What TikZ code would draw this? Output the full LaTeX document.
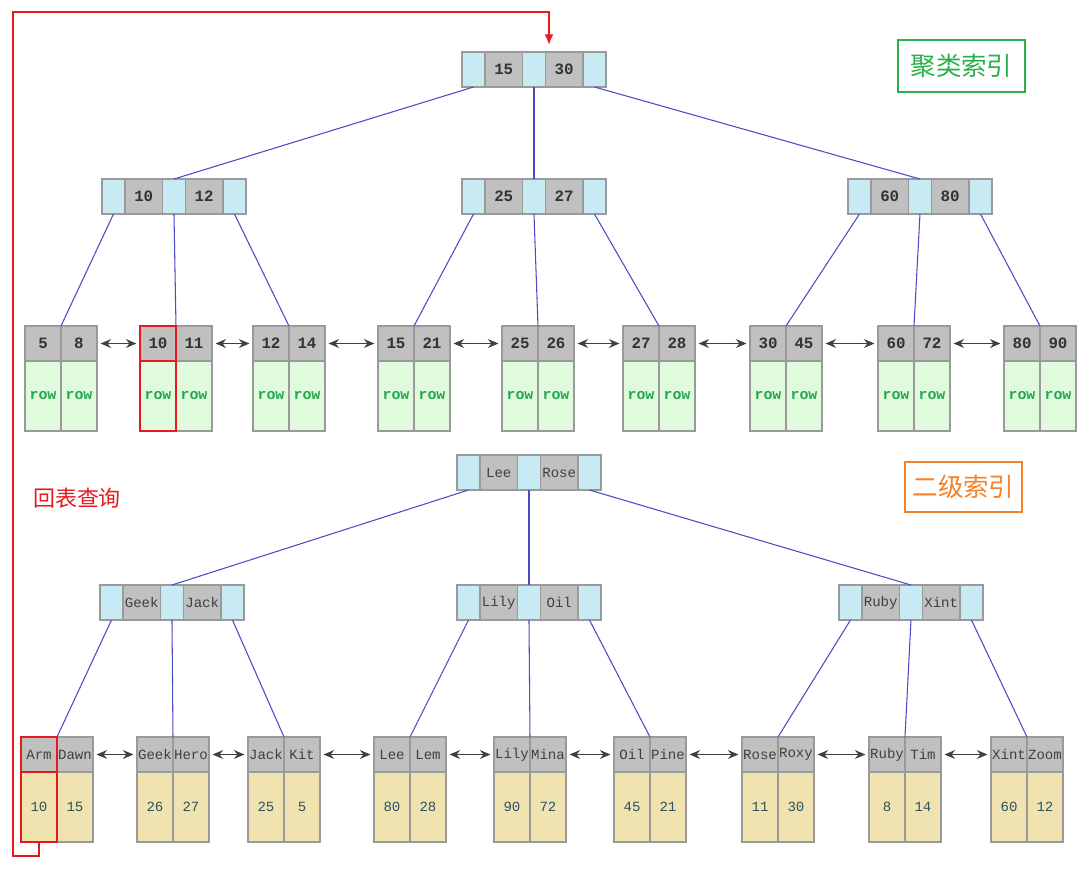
\documentclass[tikz,border=0pt]{standalone}
\usepackage{fontspec}
\setmonofont{Liberation Mono}
\newfontfamily\cjk{Noto Sans CJK SC}
\usetikzlibrary{positioning,arrows.meta}
\definecolor{ptrc}{HTML}{C8EAF2}
\definecolor{keyc}{HTML}{C0C0C0}
\definecolor{rowc}{HTML}{E0FADE}
\definecolor{valc}{HTML}{F0E3B0}
\definecolor{edgec}{HTML}{9A9A9A}
\definecolor{linkc}{HTML}{4A4AC4}
\definecolor{rowtxt}{HTML}{22A84A}
\definecolor{valtxt}{HTML}{2E5260}
\definecolor{grn}{HTML}{2BAF4A}
\definecolor{org}{HTML}{F5822A}
\definecolor{red1}{HTML}{E8191E}

\begin{document}
\begin{tikzpicture}[x=0.02cm,y=-0.02cm,
	cellbox/.style={draw=edgec,line width=0.6pt,inner sep=0,outer sep=0,
		anchor=west,minimum height=0.7cm},
	ptr/.style={cellbox,fill=ptrc,minimum width=0.46cm},
	numkey/.style={cellbox,fill=keyc,minimum width=0.75cm,
		font=\ttfamily\bfseries\fontsize{9}{10}\selectfont,text=black!80},
	wordkey/.style={cellbox,fill=keyc,minimum width=0.75cm,
		font=\ttfamily\fontsize{8}{9}\selectfont,text=black!75},
	lnum/.style={numkey,minimum width=0.72cm},
	lword/.style={wordkey,minimum width=0.72cm},
	rowbox/.style={cellbox,anchor=north,fill=rowc,minimum width=0.72cm,minimum height=1.4cm,
		font=\ttfamily\bfseries\fontsize{8.5}{9}\selectfont,text=rowtxt},
	valbox/.style={cellbox,anchor=north,fill=valc,minimum width=0.72cm,minimum height=1.4cm,
		font=\ttfamily\fontsize{8}{9}\selectfont,text=valtxt},
	treeline/.style={draw=linkc,line width=0.6pt},
	leafarrow/.style={draw=black!75,line width=0.7pt,{Stealth[length=6pt,width=5pt]}-{Stealth[length=6pt,width=5pt]},shorten <=2pt,shorten >=2pt},
	hl/.style={draw=red1,line width=1.1pt},
	tagbox/.style={line width=1.6pt,inner sep=0,font=\cjk\fontsize{14.5}{16}\selectfont}]
	\useasboundingbox (0,0) rectangle (1079,870);
	
	% clustered index
	\foreach \n/\x/\y/\a/\b in {rt/462/69.5/15/30, a1/102/196.5/10/12, a2/462/196.5/25/27, a3/848/196.5/60/80}{
		\node[ptr] (\n-0) at (\x,\y) {};
		\node[numkey,right=0pt of \n-0] (\n-1) {\a};
		\node[ptr,right=0pt of \n-1] (\n-2) {};
		\node[numkey,right=0pt of \n-2] (\n-3) {\b};
		\node[ptr,right=0pt of \n-3] (\n-4) {};
	}
	\foreach \i/\x/\a/\b in {1/25/5/8, 2/140/10/11, 3/253/12/14, 4/378/15/21, 5/502/25/26,
		6/623/27/28, 7/750/30/45, 8/878/60/72, 9/1004/80/90}{
		\node[lnum] (tl\i-k1) at (\x,343.5) {\a};
		\node[lnum,right=0pt of tl\i-k1] (tl\i-k2) {\b};
		\node[rowbox,below=0pt of tl\i-k1] (tl\i-v1) {row};
		\node[rowbox,below=0pt of tl\i-k2] (tl\i-v2) {row};
	}
	\foreach \p/\c in {rt-0/a1-2.north, rt-2/a2-2.north, rt-4/a3-2.north,
		a1-0/tl1-k1.north east, a1-2/tl2-k1.north east, a1-4/tl3-k1.north east,
		a2-0/tl4-k1.north east, a2-2/tl5-k1.north east, a2-4/tl6-k1.north east,
		a3-0/tl7-k1.north east, a3-2/tl8-k1.north east, a3-4/tl9-k1.north east}
		\draw[treeline] (\p.south) -- (\c);
	\foreach \i in {1,...,8}{
		\pgfmathtruncatemacro\j{\i+1}
		\draw[leafarrow] (tl\i-k2) -- (tl\j-k1);
	}
	
	% secondary index
	\foreach \n/\x/\y/\a/\b in {rb/457/472.5/Lee/Rose, b1/100/602.5/Geek/Jack, b2/457/602.5/Lily/Oil, b3/839/602.5/Ruby/Xint}{
		\node[ptr] (\n-0) at (\x,\y) {};
		\node[wordkey,right=0pt of \n-0] (\n-1) {\a};
		\node[ptr,right=0pt of \n-1] (\n-2) {};
		\node[wordkey,right=0pt of \n-2] (\n-3) {\b};
		\node[ptr,right=0pt of \n-3] (\n-4) {};
	}
	\foreach \i/\x/\a/\b/\u/\v in {1/21/Arm/Dawn/10/15, 2/137/Geek/Hero/26/27, 3/248/Jack/Kit/25/5,
		4/374/Lee/Lem/80/28, 5/494/Lily/Mina/90/72, 6/614/Oil/Pine/45/21,
		7/742/Rose/Roxy/11/30, 8/869/Ruby/Tim/8/14, 9/991/Xint/Zoom/60/12}{
		\node[lword] (bl\i-k1) at (\x,754.5) {\a};
		\node[lword,right=0pt of bl\i-k1] (bl\i-k2) {\b};
		\node[valbox,below=0pt of bl\i-k1] (bl\i-v1) {\u};
		\node[valbox,below=0pt of bl\i-k2] (bl\i-v2) {\v};
	}
	\foreach \p/\c in {rb-0/b1-2.north, rb-2/b2-2.north, rb-4/b3-2.north,
		b1-0/bl1-k1.north east, b1-2/bl2-k1.north east, b1-4/bl3-k1.north east,
		b2-0/bl4-k1.north east, b2-2/bl5-k1.north east, b2-4/bl6-k1.north east,
		b3-0/bl7-k1.north east, b3-2/bl8-k1.north east, b3-4/bl9-k1.north east}
		\draw[treeline] (\p.south) -- (\c);
	\foreach \i in {1,...,8}{
		\pgfmathtruncatemacro\j{\i+1}
		\draw[leafarrow] (bl\i-k2) -- (bl\j-k1);
	}
	
	% highlights and back lookup
	\draw[hl] (tl2-k1.north west) rectangle (tl2-k1.south east);
	\draw[hl] (tl2-v1.north west) rectangle (tl2-v1.south east);
	\draw[hl] (bl1-k1.north west) rectangle (bl1-k1.south east);
	\draw[hl] (bl1-v1.north west) rectangle (bl1-v1.south east);
	\coordinate (hit) at (549,45);
	\draw[hl,-{Latex[length=6pt,width=5pt]}] (bl1-v1.south) -- ++(0,14) -| (13,12) -| (hit);
	
	\node[tagbox,draw=grn,text=grn,minimum width=2.54cm,minimum height=1.04cm] (clu) at (961.5,66) {聚类索引};
	\node[tagbox,draw=org,text=org,minimum width=2.34cm,minimum height=1cm] (sec) at (963.5,487) {二级索引};
	\node[text=red1,font=\cjk\fontsize{12.5}{14}\selectfont] (back) at (77,498) {回表查询};
\end{tikzpicture}
\end{document}
